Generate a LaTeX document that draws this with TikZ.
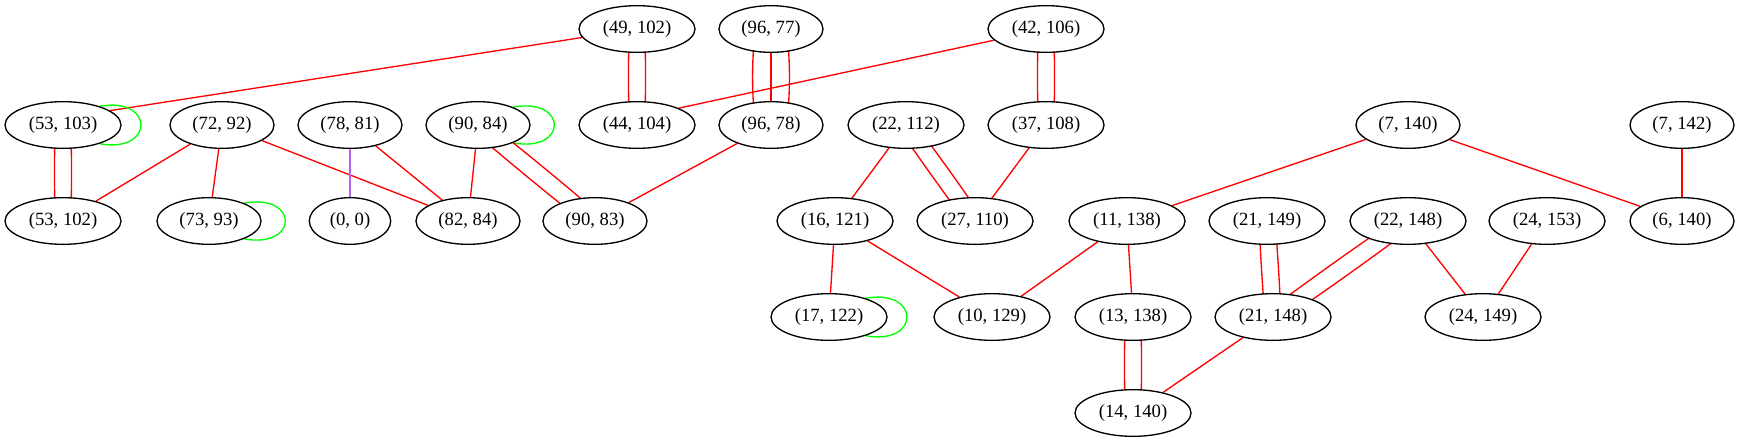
\documentclass[tikz,border=0pt]{standalone}
\usepackage{fontspec}
\setmainfont{Liberation Serif}
\usetikzlibrary{calc,backgrounds,shapes.geometric}
\definecolor{gvred}{RGB}{255,0,0}
\definecolor{gvgreen}{RGB}{0,255,0}
\definecolor{gvpurple}{RGB}{178,98,236}
\tikzset{
  gnode/.style={ellipse,draw=black,fill=white,line width=1pt,inner sep=0pt,
    minimum height=35pt,font=\fontsize{14}{16}\selectfont},
  wA/.style={gnode,minimum width=87pt},
  wB/.style={gnode,minimum width=78pt},
  wC/.style={gnode,minimum width=61pt},
  rline/.style={draw=gvred,line width=1pt},
  gline/.style={draw=gvgreen,line width=1pt},
  pline/.style={draw=gvpurple,line width=1pt}
}
\newcommand\dbledge[2]{%
  \draw[rline] ($(#1)!6pt!90:(#2)$) to[bend left=1] ($(#2)!6pt!-90:(#1)$);
  \draw[rline] ($(#1)!6pt!-90:(#2)$) to[bend right=1] ($(#2)!6pt!90:(#1)$);}
\newcommand\trpedge[2]{%
  \draw[rline] (#1) -- (#2);
  \draw[rline] ($(#1)!12pt!90:(#2)$) to[bend left=5] ($(#2)!12pt!-90:(#1)$);
  \draw[rline] ($(#1)!12pt!-90:(#2)$) to[bend right=5] ($(#2)!12pt!90:(#1)$);}
\newcommand\selfloop[1]{%
  \draw[gline] (#1.27) .. controls +(55,-10) and +(55,10) .. (#1.-27);}
\begin{document}
\begin{tikzpicture}[x=0.75pt,y=-0.75pt]
\useasboundingbox (0,0) rectangle (1739,443);
% row 1
\node[wA] (n49102) at (637,29) {(49, 102)};
\node[wB] (n9677) at (771,29) {(96, 77)};
\node[wA] (n42106) at (1046,29) {(42, 106)};
% row 2
\node[wA] (n53103) at (63,125) {(53, 103)};
\node[wB] (n7292) at (222,125) {(72, 92)};
\node[wB] (n7881) at (350,125) {(78, 81)};
\node[wB] (n9084) at (478,125) {(90, 84)};
\node[wA] (n44104) at (637,125) {(44, 104)};
\node[wB] (n9678) at (771,125) {(96, 78)};
\node[wA] (n22112) at (906,125) {(22, 112)};
\node[wA] (n37108) at (1046,125) {(37, 108)};
\node[wB] (n7140) at (1408,125) {(7, 140)};
\node[wB] (n7142) at (1682,125) {(7, 142)};
% row 3
\node[wA] (n53102) at (63,221) {(53, 102)};
\node[wB] (n7393) at (209,221) {(73, 93)};
\node[wC] (n00) at (350,221) {(0, 0)};
\node[wB] (n8284) at (468,221) {(82, 84)};
\node[wB] (n9083) at (595,221) {(90, 83)};
\node[wA] (n16121) at (835,221) {(16, 121)};
\node[wA] (n27110) at (975,221) {(27, 110)};
\node[wA] (n11138) at (1127,221) {(11, 138)};
\node[wA] (n21149) at (1267,221) {(21, 149)};
\node[wA] (n22148) at (1408,221) {(22, 148)};
\node[wA] (n24153) at (1547,221) {(24, 153)};
\node[wB] (n6140) at (1682,221) {(6, 140)};
% row 4
\node[wA] (n17122) at (829,317) {(17, 122)};
\node[wA] (n10129) at (992,317) {(10, 129)};
\node[wA] (n13138) at (1133,317) {(13, 138)};
\node[wA] (n21148) at (1273,317) {(21, 148)};
\node[wA] (n24149) at (1483,317) {(24, 149)};
% row 5
\node[wA] (n14140) at (1133,413) {(14, 140)};

\begin{pgfonlayer}{background}
\draw[rline] (n49102) -- (n53103.17);
\dbledge{n49102}{n44104}
\trpedge{n9677}{n9678}
\draw[rline] (n42106) -- (n44104.22);
\dbledge{n42106}{n37108}
\selfloop{n53103}
\dbledge{n53103}{n53102}
\draw[rline] (n7292) -- (n53102);
\draw[rline] (n7292) -- (n7393);
\draw[rline] (n7292) -- (n8284);
\draw[pline] (n7881) -- (n00);
\draw[rline] (n7881) -- (n8284);
\selfloop{n9084}
\draw[rline] (n9084) -- (n8284);
\dbledge{n9084}{n9083}
\draw[rline] (n9678) -- (n9083);
\draw[rline] (n22112) -- (n16121);
\dbledge{n22112}{n27110}
\draw[rline] (n37108) -- (n27110);
\draw[rline] (n7140) -- (n11138);
\draw[rline] (n7140) -- (n6140);
\draw[rline] (n7142) -- (n6140);
\draw[rline] (n16121) -- (n17122);
\draw[rline] (n16121) -- (n10129);
\draw[rline] (n11138) -- (n10129);
\draw[rline] (n11138) -- (n13138);
\selfloop{n17122}
\selfloop{n7393}
\dbledge{n21149}{n21148}
\dbledge{n22148}{n21148}
\draw[rline] (n22148) -- (n24149);
\draw[rline] (n24153) -- (n24149);
\dbledge{n13138}{n14140}
\draw[rline] (n21148) -- (n14140);
\end{pgfonlayer}
\end{tikzpicture}
\end{document}
